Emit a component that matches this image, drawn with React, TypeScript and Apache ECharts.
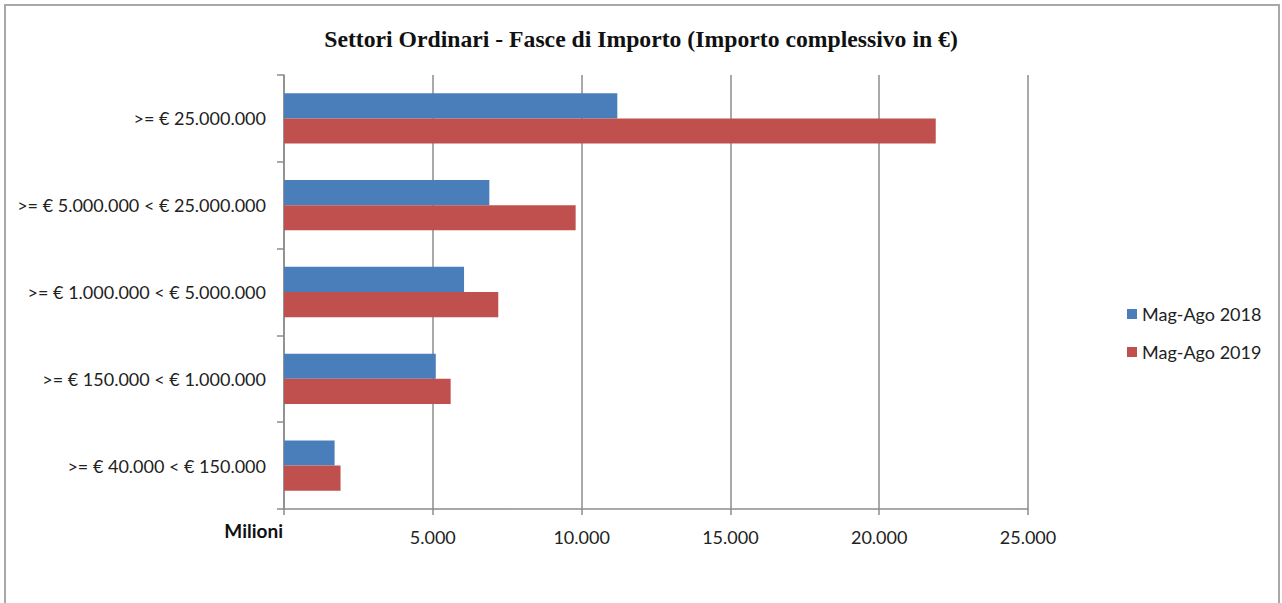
import React, { useEffect, useRef } from "react";
import * as echarts from "echarts";

const categories = [
  ">= € 25.000.000",
  ">= € 5.000.000 < € 25.000.000",
  ">= € 1.000.000 < € 5.000.000",
  ">= € 150.000 < € 1.000.000",
  ">= € 40.000 < € 150.000",
];
const series2018 = [11200, 6900, 6050, 5100, 1700];
const series2019 = [21900, 9800, 7200, 5600, 1900];
const seriesNames = ["Mag-Ago 2018", "Mag-Ago 2019"];
const titleText = "Settori Ordinari - Fasce di Importo (Importo complessivo in €)";
const unitLabel = "Milioni";

const fmt = (v: number) => {
  if (v === 0) return "";
  return String(v).replace(/\B(?=(\d{3})+(?!\d))/g, ".");
};

export default function App() {
  const ref = useRef<HTMLDivElement>(null);
  useEffect(() => {
    if (!ref.current) return;
    const chart = echarts.init(ref.current, null, { renderer: "svg" });
    const labelFont = "Lato, 'Open Sans', sans-serif";
    chart.setOption({
      animation: false,
      backgroundColor: "#ffffff",
      title: {
        text: titleText,
        left: "center",
        top: 22,
        textStyle: {
          fontFamily: "'Liberation Serif', 'DejaVu Serif', serif",
          fontWeight: "bold",
          fontSize: 23.7,
          color: "#111",
        },
      },
      legend: {
        orient: "vertical",
        left: 1122,
        top: 300,
        itemWidth: 10,
        itemHeight: 10,
        itemGap: 20,
        icon: "rect",
        textStyle: { fontFamily: labelFont, fontSize: 18, color: "#222" },
        data: seriesNames,
      },
      grid: { left: 284, right: 254, top: 75, bottom: 94, containLabel: false },
      xAxis: {
        type: "value",
        min: 0,
        max: 25000,
        interval: 5000,
        axisLine: { show: true, lineStyle: { color: "#8c8c8c", width: 1.5 } },
        axisTick: { show: true, length: 6, lineStyle: { color: "#8c8c8c", width: 1.5 } },
        splitLine: { show: true, lineStyle: { color: "#8c8c8c", width: 1.5 } },
        axisLabel: {
          formatter: fmt,
          margin: 19,
          fontFamily: labelFont,
          fontSize: 18,
          color: "#222",
        },
      },
      yAxis: {
        type: "category",
        inverse: true,
        data: categories,
        axisLine: { show: true, lineStyle: { color: "#8c8c8c", width: 1.5 } },
        axisTick: { show: true, length: 7, alignWithLabel: false, lineStyle: { color: "#8c8c8c", width: 1.5 } },
        axisLabel: {
          margin: 18,
          fontFamily: labelFont,
          fontSize: 18,
          color: "#222",
        },
      },
      graphic: [
        {
          type: "rect",
          shape: { x: 5, y: 5, width: 1274, height: 620 },
          style: { fill: "none", stroke: "#a8a8a8", lineWidth: 2 },
          silent: true,
        },
        {
          type: "text",
          x: 283,
          y: 530,
          style: {
            text: unitLabel,
            fontFamily: labelFont,
            fontWeight: "bold",
            fontSize: 19,
            fill: "#111",
            textAlign: "right",
            textVerticalAlign: "middle",
          },
        },
      ],
      series: [
        {
          name: seriesNames[0],
          type: "bar",
          data: series2018,
          barGap: "0%",
          barCategoryGap: "42%",
          itemStyle: { color: "#4a7ebb" },
        },
        {
          name: seriesNames[1],
          type: "bar",
          data: series2019,
          barGap: "0%",
          barCategoryGap: "42%",
          itemStyle: { color: "#c0504d" },
        },
      ],
    });
    return () => chart.dispose();
  }, []);
  return (
    <div
      ref={ref}
      style={{ position: "fixed", left: 0, top: 0, width: 1282, height: 603 }}
    />
  );
}
